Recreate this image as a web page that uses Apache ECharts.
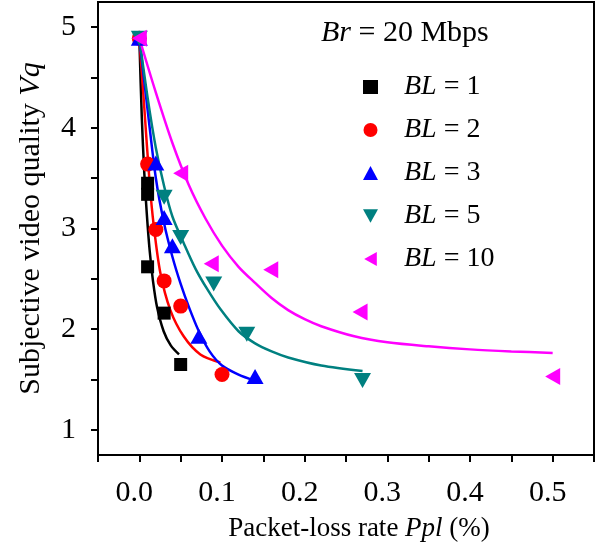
<!DOCTYPE html>
<html><head><meta charset="utf-8">
<script src="https://cdn.jsdelivr.net/npm/echarts@6/dist/echarts.min.js"></script>
<style>html,body{margin:0;padding:0;background:#fff}#c{width:605px;height:550px}</style>
</head><body><div id="c"></div>
<script>
// ---- data ----
const seriesNames = ['BL = 1', 'BL = 2', 'BL = 3', 'BL = 5', 'BL = 10'];
const blLabels = ['1', '2', '3', '5', '10'];
const bl1 = [[0, 4.89], [0.01, 3.45], [0.01, 3.34], [0.01, 2.62], [0.03, 2.16], [0.05, 1.65]];
const bl2 = [[0, 4.89], [0.01, 3.64], [0.02, 2.99], [0.03, 2.48], [0.05, 2.23], [0.1, 1.55]];
const bl3 = [[0, 4.89], [0.02, 3.65], [0.03, 3.11], [0.04, 2.83], [0.072, 1.93], [0.14, 1.53]];
const bl5 = [[0, 4.89], [0.03, 3.31], [0.05, 2.91], [0.09, 2.45], [0.13, 1.95], [0.27, 1.49]];
const bl10 = [[0, 4.89], [0.05, 3.55], [0.087, 2.65], [0.159, 2.59], [0.267, 2.17], [0.5, 1.53]];
// fitted curves
const fit1 = [[0, 4.89], [0.003, 4.1], [0.006, 3.55], [0.009, 3.15], [0.0125, 2.78], [0.0165, 2.48], [0.0214, 2.22], [0.0294, 1.98], [0.038, 1.84], [0.048, 1.75]];
const fit2 = [[0, 4.89], [0.006, 4.2], [0.0125, 3.45], [0.0173, 3.04], [0.0254, 2.56], [0.0375, 2.19], [0.0536, 1.93], [0.0738, 1.75], [0.098, 1.67]];
const fit3 = [[0, 4.89], [0.01, 4.18], [0.02, 3.5], [0.03, 3.05], [0.04, 2.72], [0.05, 2.45], [0.06, 2.22], [0.072, 1.98], [0.085, 1.78], [0.1, 1.64], [0.12, 1.55], [0.14, 1.49]];
const fit5 = [[0, 4.89], [0.01, 4.3], [0.02, 3.8], [0.03, 3.42], [0.04, 3.12], [0.054, 2.85], [0.068, 2.6], [0.082, 2.4], [0.098, 2.2], [0.12, 1.98], [0.14, 1.86], [0.16, 1.78], [0.18, 1.72], [0.22, 1.64], [0.27, 1.585]];
const fit10 = [[0, 4.89], [0.02, 4.35], [0.04, 3.85], [0.06, 3.43], [0.08, 3.1], [0.1, 2.83], [0.12, 2.62], [0.14, 2.46], [0.16, 2.31], [0.18, 2.19], [0.2, 2.1], [0.22, 2.03], [0.26, 1.93], [0.3, 1.87], [0.35, 1.83], [0.4, 1.8], [0.45, 1.78], [0.5, 1.765]];
const xTicks = [-0.05, 0, 0.05, 0.1, 0.15, 0.2, 0.25, 0.3, 0.35, 0.4, 0.45, 0.5, 0.55];
const xLabels = [0, 0.1, 0.2, 0.3, 0.4, 0.5];
const yTicks = [1, 1.5, 2, 2.5, 3, 3.5, 4, 4.5, 5];
const yLabels = [1, 2, 3, 4, 5];

const colors = ['#000000', '#ff0000', '#0000ff', '#008080', '#ff00ff'];
const TRI_DOWN = 'path://M0,0 L10,0 L5,9 Z';
const TRI_LEFT = 'path://M9,0 L9,10 L0,5 Z';
const symbols = ['rect', 'circle', 'triangle', TRI_DOWN, TRI_LEFT];
const sizes = [13, 15, [17, 15], [17, 15], [15, 17]];
const pts = [bl1, bl2, bl3, bl5, bl10];
const fits = [fit1, fit2, fit3, fit5, fit10];

const FONT = '"Liberation Serif", "Times New Roman", serif';
const chart = echarts.init(document.getElementById('c'), null, { renderer: 'canvas' });

const series = [];
fits.forEach((f, i) => {
  series.push({
    type: 'line', name: 'fit' + i, data: f, smooth: 0.3, showSymbol: false, symbol: 'none',
    lineStyle: { color: colors[i], width: 2.5 }, z: 2, silent: true
  });
});
pts.forEach((p, i) => {
  series.push({
    type: 'scatter', name: seriesNames[i], data: p, symbol: symbols[i],
    symbolSize: sizes[i], itemStyle: { color: colors[i], opacity: 1 }, z: 5
  });
});

const option = {
  animation: false,
  backgroundColor: '#fff',
  grid: { left: 98, right: 11, top: 2, bottom: 91, show: true, borderColor: '#000', borderWidth: 2, containLabel: false },
  title: {
    text: '{i|Br} = 20 Mbps', left: 316, top: 11,
    textStyle: { fontFamily: FONT, fontSize: 30, fontWeight: 'normal', color: '#000', lineHeight: 34,
      rich: { i: { fontFamily: FONT, fontSize: 30, fontStyle: 'italic', color: '#000', lineHeight: 34 } } }
  },
  legend: {
    data: seriesNames.map((n, i) => ({ name: n, icon: symbols[i] })),
    orient: 'vertical', left: 363, top: 70, padding: 0, itemGap: 9,
    itemWidth: 15, itemHeight: 14,
    formatter: n => '{g| }{i|BL} = ' + blLabels[seriesNames.indexOf(n)],
    textStyle: { fontFamily: FONT, fontSize: 28, color: '#000', lineHeight: 34,
      rich: { g: { width: 21, fontSize: 28, lineHeight: 34 }, i: { fontFamily: FONT, fontSize: 28, fontStyle: 'italic', color: '#000', lineHeight: 34 } } }
  },
  xAxis: {
    type: 'value', min: -0.05, max: 0.55,
    name: 'Packet-loss rate {i|Ppl} (%)', nameLocation: 'middle', nameGap: 44,
    nameTextStyle: { fontFamily: FONT, fontSize: 27, color: '#000', padding: [0, 0, 0, 26], lineHeight: 32,
      rich: { i: { fontFamily: FONT, fontSize: 27, fontStyle: 'italic', color: '#000', lineHeight: 32 } } },
    axisLine: { show: true, onZero: false, lineStyle: { color: '#000', width: 2 } },
    axisTick: { show: true, inside: false, length: 7, lineStyle: { color: '#000', width: 2 }, customValues: xTicks },
    axisLabel: { customValues: xLabels, formatter: v => v.toFixed(1), fontFamily: FONT, fontSize: 30, color: '#000', margin: 23, padding: [0, 10, 0, 0] },
    splitLine: { show: false }
  },
  yAxis: {
    type: 'value', min: 0.75, max: 5.25,
    name: 'Subjective video quality {i|Vq}', nameLocation: 'middle', nameGap: 50, nameRotate: 90,
    nameTextStyle: { fontFamily: FONT, fontSize: 30, color: '#000', lineHeight: 34,
      rich: { i: { fontFamily: FONT, fontSize: 30, fontStyle: 'italic', color: '#000', lineHeight: 34 } } },
    axisLine: { show: true, onZero: false, lineStyle: { color: '#000', width: 2 } },
    axisTick: { show: true, inside: false, length: 7, lineStyle: { color: '#000', width: 2 }, customValues: yTicks },
    axisLabel: { customValues: yLabels, formatter: v => String(v), fontFamily: FONT, fontSize: 30, color: '#000', margin: 22 },
    splitLine: { show: false }
  },
  series: series
};
chart.setOption(option);
</script></body></html>
